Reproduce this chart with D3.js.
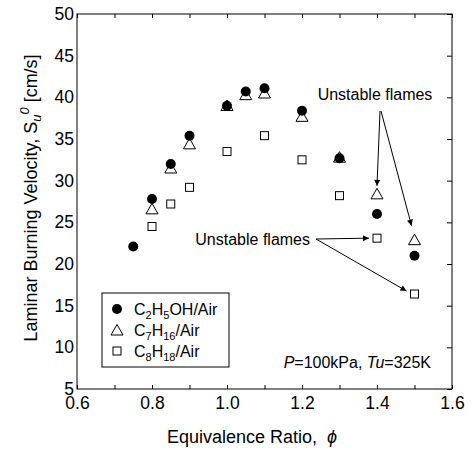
<!DOCTYPE html>
<html>
<head>
<meta charset="utf-8">
<script src="https://cdn.jsdelivr.net/npm/d3@7"></script>
<style>
  body { margin: 0; background: #fff; }
  text { font-family: Arial, "Liberation Sans", sans-serif; fill: #000; }
</style>
</head>
<body>
<div id="chart"></div>
<script>
// equivalence ratios and burning velocities (cm/s)
var phiEthanol  = [0.75, 0.8, 0.85, 0.9, 1.0, 1.05, 1.1, 1.2, 1.3, 1.4, 1.5];
var suEthanol   = [22.1, 27.8, 32.0, 35.4, 39.0, 40.7, 41.1, 38.4, 32.7, 26.0, 21.0];
var phiHeptane  = [0.8, 0.85, 0.9, 1.0, 1.05, 1.1, 1.2, 1.3, 1.4, 1.5];
var suHeptane   = [26.5, 31.4, 34.3, 38.9, 40.2, 40.4, 37.6, 32.7, 28.3, 22.8];
var phiOctane   = [0.8, 0.85, 0.9, 1.0, 1.1, 1.2, 1.3, 1.4, 1.5];
var suOctane    = [24.5, 27.2, 29.2, 33.5, 35.4, 32.5, 28.2, 23.1, 16.4];

var xTicks = [0.6, 0.7, 0.8, 0.9, 1.0, 1.1, 1.2, 1.3, 1.4, 1.5, 1.6];
var xLabels = [0.6, 0.8, 1.0, 1.2, 1.4, 1.6];
var yTicks = [5, 10, 15, 20, 25, 30, 35, 40, 45, 50];

var width = 472, height = 450;
var margin = {left: 77, right: 20, top: 14, bottom: 61};

var svg = d3.select("#chart").append("svg")
    .attr("width", width)
    .attr("height", height);

var x = d3.scaleLinear().domain([0.6, 1.6]).range([margin.left, width - margin.right]);
var y = d3.scaleLinear().domain([5, 50]).range([height - margin.bottom, margin.top]);

// frame
svg.append("rect")
    .attr("x", x(0.6)).attr("y", y(50))
    .attr("width", x(1.6) - x(0.6))
    .attr("height", y(5) - y(50))
    .attr("fill", "none")
    .attr("stroke", "#000")
    .attr("stroke-width", 1);

// bottom axis, inward ticks
var xAxis = svg.append("g")
    .attr("transform", "translate(0," + y(5) + ")")
    .call(d3.axisBottom(x).tickValues(xTicks).tickSize(-4).tickPadding(8)
        .tickFormat(function(d) {
            var ok = xLabels.some(function(v) { return Math.abs(v - d) < 1e-6; });
            return ok ? d3.format(".1f")(d) : "";
        }));
xAxis.select(".domain").remove();
xAxis.selectAll("text").attr("font-size", 17.5).attr("font-family", null);

// top axis, ticks only
var topAxis = svg.append("g")
    .attr("transform", "translate(0," + y(50) + ")")
    .call(d3.axisTop(x).tickValues(xTicks).tickSize(-4).tickFormat(""));
topAxis.select(".domain").remove();

// right axis, ticks only
var rightAxis = svg.append("g")
    .attr("transform", "translate(" + x(1.6) + ",0)")
    .call(d3.axisRight(y).tickValues(yTicks).tickSize(-5).tickFormat(""));
rightAxis.select(".domain").remove();

// left axis, labels only
var yAxis = svg.append("g")
    .attr("transform", "translate(" + x(0.6) + ",0)")
    .call(d3.axisLeft(y).tickValues(yTicks).tickSize(0).tickPadding(3));
yAxis.select(".domain").remove();
yAxis.selectAll("text").attr("font-size", 17.5).attr("font-family", null);

// axis titles
var xTitle = svg.append("text")
    .attr("x", 252).attr("y", 443)
    .attr("text-anchor", "middle")
    .attr("font-size", 18);
xTitle.append("tspan").text("Equivalence Ratio,\u00a0\u00a0");
xTitle.append("tspan").attr("font-style", "italic").text("\u03d5");

var yTitle = svg.append("text")
    .attr("transform", "translate(37,198) rotate(-90)")
    .attr("text-anchor", "middle")
    .attr("font-size", 18);
yTitle.append("tspan").text("Laminar Burning Velocity, S");
yTitle.append("tspan").attr("font-style", "italic").attr("font-size", 13).attr("dy", 4).text("u");
yTitle.append("tspan").attr("font-style", "italic").attr("font-size", 13).attr("dy", -12).text("0");
yTitle.append("tspan").attr("dy", 8).text(" [cm/s]");

// markers
var octane = phiOctane.map(function(d, i) { return {phi: d, su: suOctane[i]}; });
var heptane = phiHeptane.map(function(d, i) { return {phi: d, su: suHeptane[i]}; });
var ethanol = phiEthanol.map(function(d, i) { return {phi: d, su: suEthanol[i]}; });

var triPath = "M0,-6.5L6,4L-6,4Z";

svg.append("g").selectAll("rect")
    .data(octane).enter().append("rect")
    .attr("x", function(d) { return x(d.phi) - 4; })
    .attr("y", function(d) { return y(d.su) - 4; })
    .attr("width", 8).attr("height", 8)
    .attr("fill", "#fff").attr("stroke", "#000").attr("stroke-width", 1);

svg.append("g").selectAll("path")
    .data(heptane).enter().append("path")
    .attr("d", triPath)
    .attr("transform", function(d) { return "translate(" + x(d.phi) + "," + y(d.su) + ")"; })
    .attr("fill", "#fff").attr("stroke", "#000").attr("stroke-width", 1);

svg.append("g").selectAll("circle")
    .data(ethanol).enter().append("circle")
    .attr("cx", function(d) { return x(d.phi); })
    .attr("cy", function(d) { return y(d.su); })
    .attr("r", 5)
    .attr("fill", "#000");

// arrowhead
svg.append("defs").append("marker")
    .attr("id", "arrow")
    .attr("viewBox", "0 0 10 10")
    .attr("refX", 10).attr("refY", 5)
    .attr("markerWidth", 8).attr("markerHeight", 6)
    .attr("markerUnits", "userSpaceOnUse")
    .attr("orient", "auto")
    .append("path")
    .attr("d", "M0,0L10,5L0,10Z")
    .attr("fill", "#000");

function arrow(x1, y1, x2, y2) {
    svg.append("line")
        .attr("x1", x1).attr("y1", y1)
        .attr("x2", x2).attr("y2", y2)
        .attr("stroke", "#000").attr("stroke-width", 1)
        .attr("marker-end", "url(#arrow)");
}

// top annotation, pointing at heptane at 1.4 and 1.5
svg.append("text")
    .attr("x", 375).attr("y", 100)
    .attr("text-anchor", "middle")
    .attr("font-size", 16)
    .text("Unstable flames");
arrow(380, 111, x(1.4), y(28.3) - 9);
arrow(381, 111, x(1.5) - 3, y(22.8) - 15);

// bottom annotation, pointing at octane at 1.4 and 1.5
svg.append("text")
    .attr("x", 310).attr("y", 245)
    .attr("text-anchor", "end")
    .attr("font-size", 16)
    .text("Unstable flames");
arrow(316, 239, x(1.4) - 8, y(23.1));
arrow(316, 239, x(1.5) - 8, y(16.4) - 3);

// conditions
var cond = svg.append("text")
    .attr("x", 431).attr("y", 368)
    .attr("text-anchor", "end")
    .attr("font-size", 16);
cond.append("tspan").attr("font-style", "italic").text("P");
cond.append("tspan").text("=100kPa, ");
cond.append("tspan").attr("font-style", "italic").text("Tu");
cond.append("tspan").text("=325K");

// legend
var legend = svg.append("g");
legend.append("rect")
    .attr("x", 102).attr("y", 293)
    .attr("width", 127).attr("height", 74)
    .attr("fill", "#fff").attr("stroke", "#000").attr("stroke-width", 1);

legend.append("circle").attr("cx", 117).attr("cy", 309).attr("r", 5).attr("fill", "#000");
legend.append("path").attr("d", triPath)
    .attr("transform", "translate(117,331)")
    .attr("fill", "#fff").attr("stroke", "#000");
legend.append("rect").attr("x", 113).attr("y", 347).attr("width", 8).attr("height", 8)
    .attr("fill", "#fff").attr("stroke", "#000");

function formula(yy, parts) {
    var t = legend.append("text").attr("x", 134).attr("y", yy).attr("font-size", 16);
    parts.forEach(function(p) {
        if (p.sub) {
            t.append("tspan").attr("font-size", 11).attr("dy", 4).text(p.sub);
        } else {
            t.append("tspan").attr("dy", p.after ? -4 : 0).text(p.txt);
        }
    });
}
formula(315, [{txt: "C"}, {sub: "2"}, {txt: "H", after: true}, {sub: "5"}, {txt: "OH/Air", after: true}]);
formula(336, [{txt: "C"}, {sub: "7"}, {txt: "H", after: true}, {sub: "16"}, {txt: "/Air", after: true}]);
formula(357, [{txt: "C"}, {sub: "8"}, {txt: "H", after: true}, {sub: "18"}, {txt: "/Air", after: true}]);
</script>
</body>
</html>
